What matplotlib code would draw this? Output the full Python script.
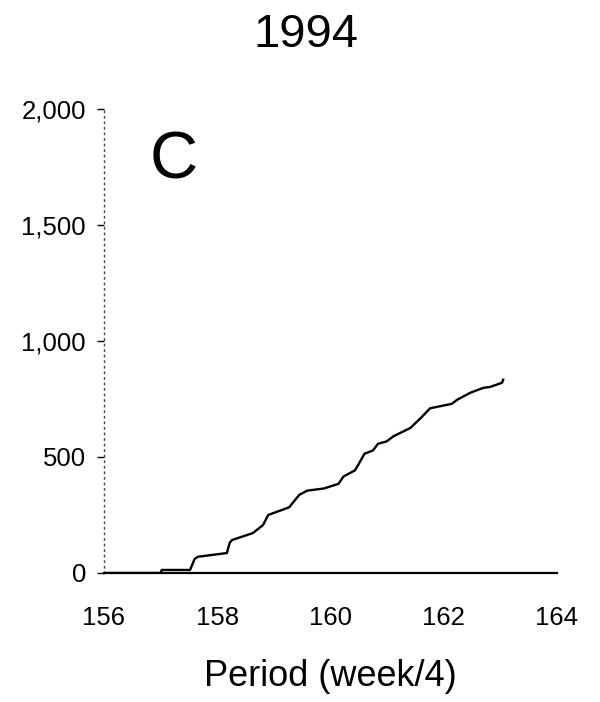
import numpy as np
import matplotlib
matplotlib.use("Agg")
import matplotlib.pyplot as plt

plt.rcParams['font.family'] = ['Liberation Sans', 'DejaVu Sans']

title = "1994"
panel = "C"
xlabel = "Period (week/4)"
x_ticks = [156, 158, 160, 162, 164]
y_ticks = [0, 500, 1000, 1500, 2000]
y_ticklabels = ["0", "500", "1,000", "1,500", "2,000"]

period = [156.0, 157.0, 157.02, 157.52, 157.60, 157.66, 158.17, 158.22, 158.26,
          158.63, 158.81, 158.90, 159.27, 159.45, 159.59, 159.88, 160.14,
          160.23, 160.43, 160.49, 160.60, 160.75, 160.84, 160.99, 161.11,
          161.41, 161.59, 161.76, 162.14, 162.24, 162.47, 162.70, 162.82,
          163.03, 163.05]
cumulative = [0, 0, 13, 13, 60, 70, 86, 130, 142,
              172, 207, 250, 283, 337, 355, 364, 384,
              416, 442, 466, 514, 528, 557, 567, 589,
              625, 667, 710, 729, 747, 777, 798, 802,
              820, 833]

fig = plt.figure(figsize=(6.0, 7.02), dpi=100)
ax = fig.add_axes([0.1733, 0.1838, 0.755, 0.6609])
ax.plot(period, cumulative, color='black', lw=1.7)

ax.set_xlim(156.0, 164.0)
ax.set_ylim(0, 2000)
ax.set_xticks(x_ticks)
ax.set_xticklabels([str(t) for t in x_ticks])
ax.set_yticks(y_ticks)
ax.set_yticklabels(y_ticklabels)
ax.tick_params(axis='x', length=0, pad=24, labelsize=18.5)
ax.tick_params(axis='y', length=5, width=1, pad=8, labelsize=18.5, direction='out')

for s in ['top', 'right']:
    ax.spines[s].set_visible(False)
ax.spines['bottom'].set_linewidth(1.6)
ax.spines['left'].set_linewidth(1.0)
ax.spines['left'].set_linestyle((0, (1, 3)))
ax.spines['left'].set_color('#444444')

ax.set_xlabel(xlabel, fontsize=26, labelpad=21)
fig.text(0.509, 0.95, title, fontsize=34, ha='center', va='center')
ax.text(157.23, 1775, panel, fontsize=48, ha='center', va='center')

fig.savefig("out.png", dpi=100, facecolor='white')
